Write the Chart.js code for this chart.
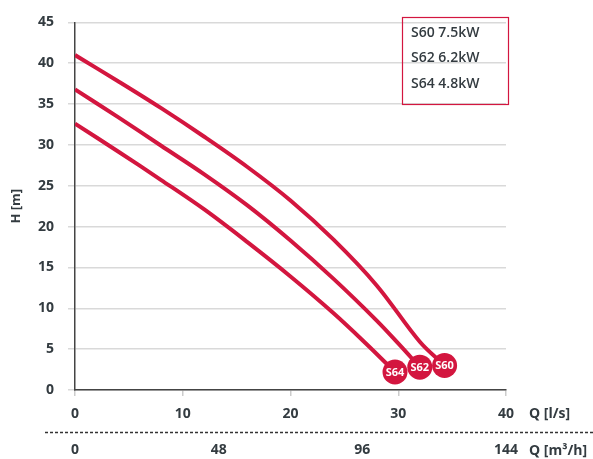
<!DOCTYPE html>
<html>
<head>
<meta charset="utf-8">
<script src="https://cdn.jsdelivr.net/npm/chart.js@4"></script>
<style>
  html, body { margin: 0; padding: 0; background: #ffffff; }
  #wrap { position: relative; width: 593px; height: 459px; }
</style>
</head>
<body>
<div id="wrap"><canvas id="c" width="593" height="459"></canvas></div>
<script>
// ---- Data ----
const seriesNames = ['S60', 'S62', 'S64'];
const seriesPower = ['7.5kW', '6.2kW', '4.8kW'];
const qS60 = [0, 4, 8, 12, 16, 20, 24, 28, 32, 34.3];
const hS60 = [41, 37.8, 34.5, 31.0, 27.3, 23.2, 18.4, 12.8, 5.9, 3.0];
const qS62 = [0, 4, 8, 12, 16, 20, 24, 28, 30, 32.0];
const hS62 = [36.8, 33.4, 29.9, 26.4, 22.6, 18.3, 13.6, 8.5, 5.7, 2.8];
const qS64 = [0, 4, 8, 12, 16, 20, 24, 27, 29.7];
const hS64 = [32.6, 29.2, 25.7, 22.1, 18.1, 13.9, 9.4, 5.7, 2.2];
const qLsTicks = [0, 10, 20, 30, 40];
const qM3hTicks = [0, 48, 96, 144];
const hTicks = [0, 5, 10, 15, 20, 25, 30, 35, 40, 45];
const yTitle = 'H [m]';
const qLsTitle = 'Q [l/s]';
const qM3hTitle = 'Q [m³/h]';

const RED = '#d3163f';
const TXT = '#333b40';
const FONT = "'Open Sans', 'Liberation Sans', sans-serif";

function pts(xs, ys) { return xs.map((x, i) => ({ x: x, y: ys[i] })); }
const allQ = [qS60, qS62, qS64];
const allH = [hS60, hS62, hS64];

const datasets = seriesNames.map((n, i) => ({
  label: n,
  data: pts(allQ[i], allH[i]),
  borderColor: RED,
  backgroundColor: RED,
  borderWidth: 4,
  tension: 0.35,
  pointRadius: (ctx) => ctx.dataIndex === ctx.dataset.data.length - 1 ? 12.5 : 0,
  pointHoverRadius: (ctx) => ctx.dataIndex === ctx.dataset.data.length - 1 ? 12.5 : 0,
  pointBorderWidth: 0,
  pointBackgroundColor: RED,
  fill: false,
  order: i
}));

const decor = {
  id: 'decor',
  afterDatasetsDraw(chart) {
    const ctx = chart.ctx;
    ctx.save();
    ctx.fillStyle = '#ffffff';
    ctx.font = "bold 11px " + FONT;
    ctx.textAlign = 'center';
    ctx.textBaseline = 'middle';
    chart.data.datasets.forEach((ds, i) => {
      const meta = chart.getDatasetMeta(i);
      const p = meta.data[meta.data.length - 1];
      ctx.fillText(seriesNames[i], p.x, p.y + 0.5);
    });
    ctx.restore();
  },
  afterDraw(chart) {
    const ctx = chart.ctx;
    ctx.save();
    // dashed separator
    ctx.strokeStyle = '#333333';
    ctx.lineWidth = 1.5;
    ctx.setLineDash([3, 2]);
    ctx.beginPath();
    ctx.moveTo(45, 432.5);
    ctx.lineTo(593, 432.5);
    ctx.stroke();
    ctx.setLineDash([]);
    // axis unit titles
    ctx.fillStyle = TXT;
    ctx.font = "bold 14px " + FONT;
    ctx.textAlign = 'left';
    ctx.textBaseline = 'middle';
    ctx.fillText(qLsTitle, 529, 414);
    ctx.fillText(qM3hTitle, 529, 451);
    // legend box
    ctx.strokeStyle = RED;
    ctx.lineWidth = 1.2;
    ctx.strokeRect(402.5, 17.5, 106, 87);
    ctx.fillStyle = TXT;
    ctx.font = "600 14px " + FONT;
    seriesNames.forEach((n, i) => {
      ctx.fillText(n + ' ' + seriesPower[i], 411, 33 + i * 25.5);
    });
    ctx.restore();
  }
};

new Chart(document.getElementById('c'), {
  type: 'line',
  data: { datasets: datasets },
  options: {
    responsive: false,
    animation: false,
    events: [],
    layout: { padding: { left: 0, right: 87, top: 17, bottom: 0 } },
    plugins: { legend: { display: false }, tooltip: { enabled: false } },
    scales: {
      x: {
        type: 'linear', position: 'bottom', min: 0, max: 40, weight: 0,
        afterBuildTicks: (s) => { s.ticks = qLsTicks.map(v => ({ value: v })); },
        afterFit: (s) => { s.height = 30; },
        ticks: { color: TXT, font: { family: FONT, size: 14, weight: 'bold' }, padding: 10, maxRotation: 0 },
        grid: { drawOnChartArea: false, color: '#cccccc', lineWidth: 1.5, tickLength: 6 },
        border: { color: '#444444', width: 1.5 }
      },
      x2: {
        type: 'linear', position: 'bottom', min: 0, max: 144, weight: 1,
        afterBuildTicks: (s) => { s.ticks = qM3hTicks.map(v => ({ value: v })); },
        afterFit: (s) => { s.height = 39; },
        ticks: { color: TXT, font: { family: FONT, size: 14, weight: 'bold' }, padding: 22, maxRotation: 0 },
        grid: { display: false, drawTicks: false },
        border: { display: false }
      },
      y: {
        type: 'linear', min: 0, max: 45,
        afterBuildTicks: (s) => { s.ticks = hTicks.map(v => ({ value: v })); },
        afterFit: (s) => { s.width = 75; },
        ticks: { color: TXT, font: { family: FONT, size: 14, weight: 'bold' }, padding: 14 },
        grid: { color: '#d9d9d9', lineWidth: 1.5, tickLength: 7 },
        border: { color: '#444444', width: 1.5 },
        title: { display: true, text: yTitle, color: TXT, font: { family: FONT, size: 13, weight: 'bold' }, padding: { top: 8, bottom: 0 } }
      }
    }
  },
  plugins: [decor]
});
</script>
</body>
</html>
